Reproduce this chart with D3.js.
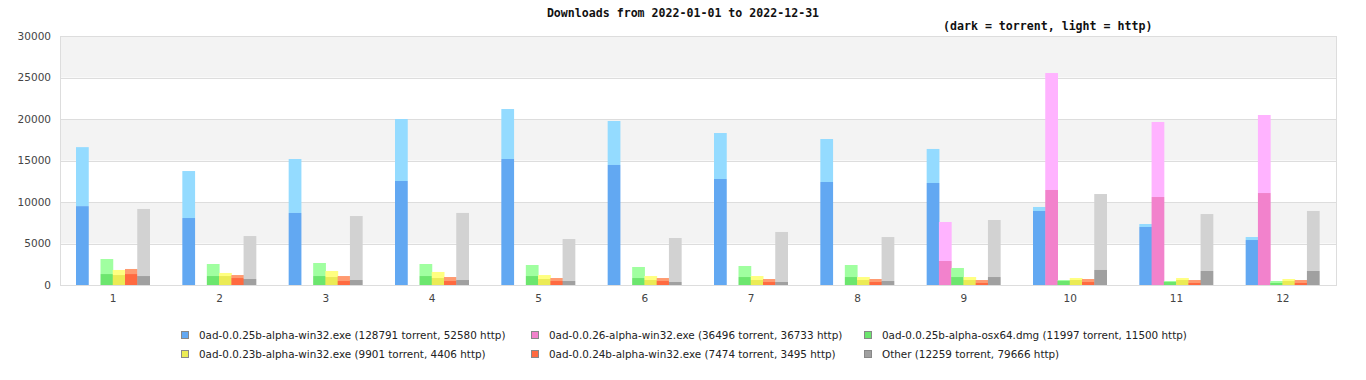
<!doctype html>
<html lang="en">
<head>
  <meta charset="utf-8">
  <title>Downloads</title>
  <script src="https://d3js.org/d3.v7.min.js"></script>
  <style>
    body { margin:0; background:#fff; }
    text { font-family:"DejaVu Sans", sans-serif; }
    .title { font-family:"DejaVu Sans Mono", monospace; font-weight:bold; font-size:11.6px; fill:#111; }
    .tick-label { font-size:10.5px; fill:#444; }
    .legend text { font-family:"DejaVu Sans", sans-serif; font-size:10.4px; fill:#222; }
  </style>
</head>
<body>
<div id="chart"></div>
<script>
  var width = 1366,
      height = 380;

  var months = [1, 2, 3, 4, 5, 6, 7, 8, 9, 10, 11, 12];
  var yTicks = [0, 5000, 10000, 15000, 20000, 25000, 30000];

  var seriesNames = [
    "0ad-0.0.25b-alpha-win32.exe",
    "0ad-0.0.26-alpha-win32.exe",
    "0ad-0.0.25b-alpha-osx64.dmg",
    "0ad-0.0.23b-alpha-win32.exe",
    "0ad-0.0.24b-alpha-win32.exe",
    "Other"
  ];
  var totalTorrent = [128791, 36496, 11997, 9901, 7474, 12259];
  var totalHttp = [52580, 36733, 11500, 4406, 3495, 79666];

  var darkColors = ["#62a8f2", "#f282cc", "#6ce66e", "#ebeb55", "#ff6a40", "#a0a0a0"];
  var lightColors = ["#94dbff", "#ffb3ff", "#a0ffa0", "#ffff80", "#ff9a70", "#d2d2d2"];

  // torrent downloads per month (dark part)
  var torrent = [
    [9500, 8070, 8680, 12530, 15180, 14460, 12770, 12410, 12290, 8920, 6990, 5420],
    [0, 0, 0, 0, 0, 0, 0, 0, 2890, 11450, 10600, 11080],
    [1320, 1080, 1080, 1080, 1080, 840, 960, 960, 960, 480, 360, 240],
    [1200, 1080, 960, 840, 720, 600, 600, 600, 600, 600, 600, 480],
    [1320, 840, 480, 480, 480, 480, 360, 360, 240, 360, 240, 240],
    [1080, 720, 600, 600, 480, 360, 360, 480, 960, 1810, 1690, 1690]
  ];
  // http downloads per month (light part, stacked on top)
  var http = [
    [7110, 5660, 6500, 7470, 6020, 5300, 5540, 5180, 4100, 480, 360, 360],
    [0, 0, 0, 0, 0, 0, 0, 0, 4700, 14090, 9040, 9400],
    [1810, 1450, 1570, 1450, 1330, 1330, 1330, 1450, 1090, 120, 120, 240],
    [610, 370, 730, 730, 480, 480, 480, 360, 360, 240, 240, 240],
    [610, 360, 600, 480, 360, 360, 360, 360, 360, 360, 360, 360],
    [8080, 5180, 7710, 8080, 5060, 5300, 6030, 5300, 6870, 9150, 6860, 7230]
  ];

  var margin = {left: 60, right: 30, top: 36, bottom: 95};

  var svg = d3.select("#chart")
    .append("svg")
    .attr("width", width)
    .attr("height", height);

  var x0 = d3.scaleBand()
    .domain(months)
    .range([margin.left, width - margin.right]);

  var x1 = d3.scaleBand()
    .domain(d3.range(seriesNames.length))
    .range([16, 89.5]);

  var y = d3.scaleLinear()
    .domain([0, 30000])
    .range([height - margin.bottom, margin.top]);

  // alternating bands
  svg.append("g").selectAll("rect")
    .data(d3.pairs(yTicks))
    .enter().append("rect")
    .attr("x", margin.left)
    .attr("width", width - margin.right - margin.left)
    .attr("y", function(d){ return y(d[1]); })
    .attr("height", function(d){ return y(d[0]) - y(d[1]); })
    .attr("fill", function(d, i){ return i % 2 == 1 ? "#f3f3f3" : "#fff"; });

  // grid lines
  svg.append("g").selectAll("line")
    .data(yTicks)
    .enter().append("line")
    .attr("x1", margin.left)
    .attr("x2", width - margin.right)
    .attr("y1", function(d){ return Math.round(y(d)) + 0.5; })
    .attr("y2", function(d){ return Math.round(y(d)) + 0.5; })
    .attr("stroke", "#dddddd");

  // bars
  var groups = svg.append("g").selectAll("g")
    .data(months)
    .enter().append("g")
    .attr("transform", function(d){ return "translate(" + x0(d) + ",0)"; });

  groups.each(function(m, mi) {
    var g = d3.select(this);
    seriesNames.forEach(function(name, si) {
      var t = torrent[si][mi], h = http[si][mi];
      if (t + h == 0) return;
      var bx = x1(si), bw = x1.bandwidth() + 0.5;
      g.append("rect")
        .attr("x", bx).attr("width", bw)
        .attr("y", y(t + h))
        .attr("height", y(t) - y(t + h))
        .attr("fill", lightColors[si]);
      g.append("rect")
        .attr("x", bx).attr("width", bw)
        .attr("y", y(t))
        .attr("height", y(0) - y(t))
        .attr("fill", darkColors[si]);
    });
  });

  // plot border
  svg.append("rect")
    .attr("x", margin.left + 0.5)
    .attr("y", margin.top + 0.5)
    .attr("width", width - margin.right - margin.left)
    .attr("height", y(0) - margin.top)
    .attr("fill", "none")
    .attr("stroke", "#dddddd");

  // y labels
  svg.append("g").selectAll("text")
    .data(yTicks)
    .enter().append("text")
    .attr("class", "tick-label")
    .attr("x", 51)
    .attr("y", function(d){ return y(d); })
    .attr("dy", "0.35em")
    .attr("text-anchor", "end")
    .text(function(d){ return d; });

  // x labels
  svg.append("g").selectAll("text")
    .data(months)
    .enter().append("text")
    .attr("class", "tick-label")
    .attr("x", function(d){ return x0(d) + x0.bandwidth() / 2; })
    .attr("y", 302)
    .attr("text-anchor", "middle")
    .text(function(d){ return d; });

  // titles
  svg.append("text")
    .attr("class", "title")
    .attr("x", 683)
    .attr("y", 17)
    .attr("text-anchor", "middle")
    .text("Downloads from 2022-01-01 to 2022-12-31");

  svg.append("text")
    .attr("class", "title")
    .attr("x", 943)
    .attr("y", 30)
    .text("(dark = torrent, light = http)");

  // legend
  var legendCols = [181, 531, 864];
  var legendRows = [335, 354];

  var legend = svg.append("g").attr("class", "legend")
    .selectAll("g")
    .data(seriesNames)
    .enter().append("g")
    .attr("transform", function(d, i){
      return "translate(" + legendCols[i % 3] + "," + legendRows[Math.floor(i / 3)] + ")";
    });

  legend.append("rect")
    .attr("x", 0.5).attr("y", -3.5)
    .attr("width", 7).attr("height", 7)
    .attr("fill", function(d, i){ return darkColors[i]; })
    .attr("stroke", "#888");

  legend.append("text")
    .attr("x", 18)
    .attr("y", 0)
    .attr("dy", "0.35em")
    .text(function(d, i){
      return d + " (" + totalTorrent[i] + " torrent, " + totalHttp[i] + " http)";
    });
</script>
</body>
</html>
